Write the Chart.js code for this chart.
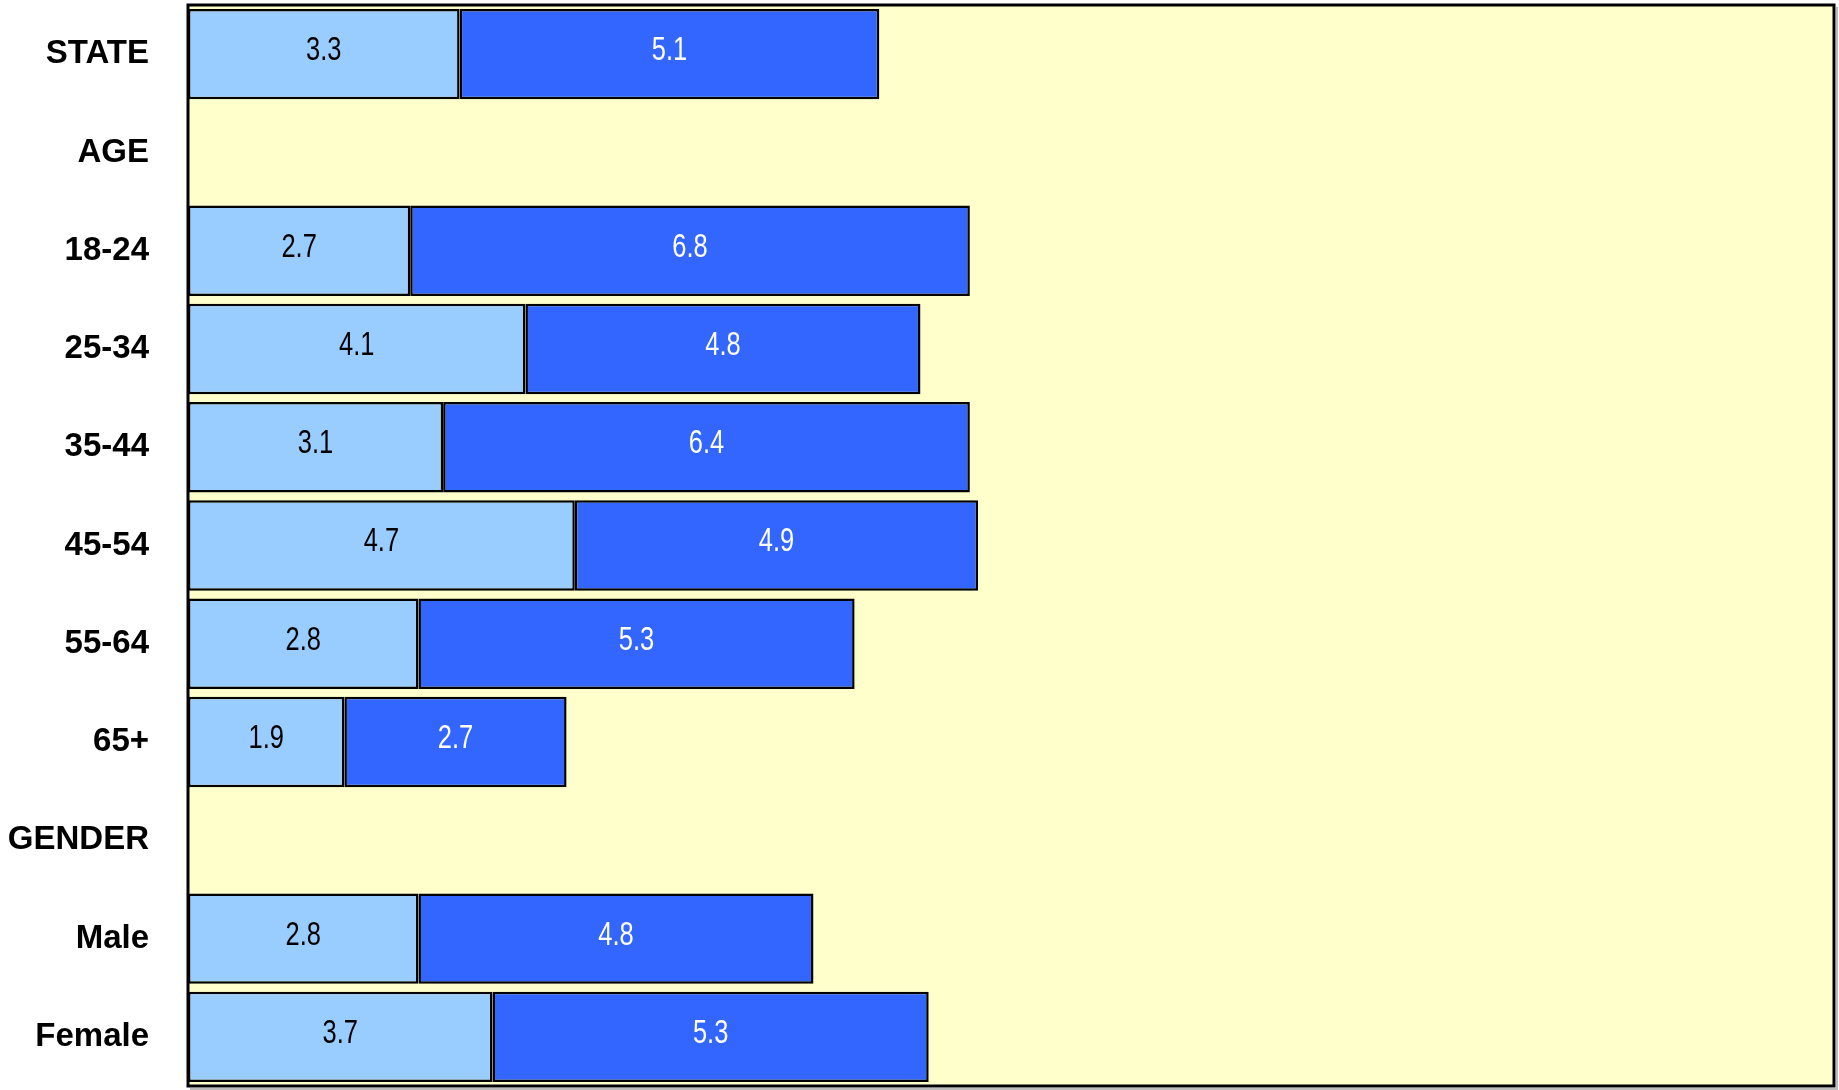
<!DOCTYPE html>
<html>
<head>
<meta charset="utf-8">
<script src="https://cdn.jsdelivr.net/npm/chart.js@4/dist/chart.umd.min.js"></script>
<style>
    html, body { margin: 0; padding: 0; background: #fff; }
    #wrap { width: 1839px; height: 1090px; }
</style>
</head>
<body>
<div id="wrap"><canvas id="myChart"></canvas></div>
<script>

let groups = ['STATE', 'AGE', '18-24', '25-34', '35-44', '45-54', '55-64', '65+', 'GENDER', 'Male', 'Female'];
let firstPart = [3.3, null, 2.7, 4.1, 3.1, 4.7, 2.8, 1.9, null, 2.8, 3.7];
let secondPart = [5.1, null, 6.8, 4.8, 6.4, 4.9, 5.3, 2.7, null, 4.8, 5.3];

// yellow plot background + black frame
const plotFrame = {
    id: 'plotFrame',
    beforeDatasetsDraw(chart) {
        const { ctx, chartArea: a } = chart;
        ctx.save();
        ctx.fillStyle = '#FFFFCC';
        ctx.fillRect(a.left, a.top, a.right - a.left, a.bottom - a.top);
        ctx.restore();
    },
    afterDraw(chart) {
        const { ctx, chartArea: a } = chart;
        ctx.save();
        ctx.strokeStyle = '#bbbbbb';
        ctx.lineWidth = 2;
        ctx.beginPath();
        ctx.moveTo(a.right + 3, a.top + 2);
        ctx.lineTo(a.right + 3, a.bottom + 3);
        ctx.lineTo(a.left + 2, a.bottom + 3);
        ctx.stroke();
        ctx.strokeStyle = '#000';
        ctx.lineWidth = 3;
        ctx.strokeRect(a.left, a.top, a.right - a.left, a.bottom - a.top);
        ctx.restore();
    }
};

// numbers in the middle of each bar (narrowed a bit, like the original)
const barValues = {
    id: 'barValues',
    afterDatasetsDraw(chart) {
        const ctx = chart.ctx;
        chart.data.datasets.forEach((ds, i) => {
            chart.getDatasetMeta(i).data.forEach((bar, j) => {
                if (ds.data[j] == null) return;
                const p = bar.getCenterPoint();
                ctx.save();
                ctx.translate(p.x, p.y - 3);
                ctx.scale(0.85, 1.08);
                ctx.font = '30px "Liberation Sans", Arial, sans-serif';
                ctx.textAlign = 'center';
                ctx.textBaseline = 'middle';
                ctx.fillStyle = i === 0 ? '#000' : '#fff';
                ctx.fillText(ds.data[j].toFixed(1), 0, 0);
                ctx.restore();
            });
        });
    }
};

let ct = document.getElementById('myChart').getContext('2d');
let myChart = new Chart(ct, {
    type: 'bar',
    data: {
        labels: groups,
        datasets: [{
            label: 'Part 1',
            data: firstPart,
            backgroundColor: '#99CCFF',
            borderColor: '#000',
            borderWidth: 2.5,
            borderSkipped: false
        }, {
            label: 'Part 2',
            data: secondPart,
            backgroundColor: '#3366FF',
            borderColor: '#000',
            borderWidth: 2.5,
            borderSkipped: false
        }]
    },
    options: {
        indexAxis: 'y',
        responsive: true,
        maintainAspectRatio: false,
        animation: false,
        layout: {
            padding: { top: 5, right: 5, bottom: 4, left: 0 }
        },
        datasets: {
            bar: { categoryPercentage: 1, barPercentage: 0.92 }
        },
        scales: {
            x: {
                stacked: true,
                min: 0,
                max: 20,
                display: false
            },
            y: {
                stacked: true,
                afterFit: scale => {
                    scale.width = 188;
                    scale.paddingTop = 0;
                    scale.paddingBottom = 0;
                },
                grid: { display: false, drawTicks: true, tickLength: 39 },
                border: { display: false },
                ticks: {
                    padding: 0,
                    color: '#000',
                    font: { family: '"Liberation Sans", Arial, sans-serif', size: 33, weight: 'bold' }
                }
            }
        },
        plugins: {
            legend: { display: false },
            tooltip: { enabled: false }
        }
    },
    plugins: [plotFrame, barValues]
});

</script>
</body>
</html>
